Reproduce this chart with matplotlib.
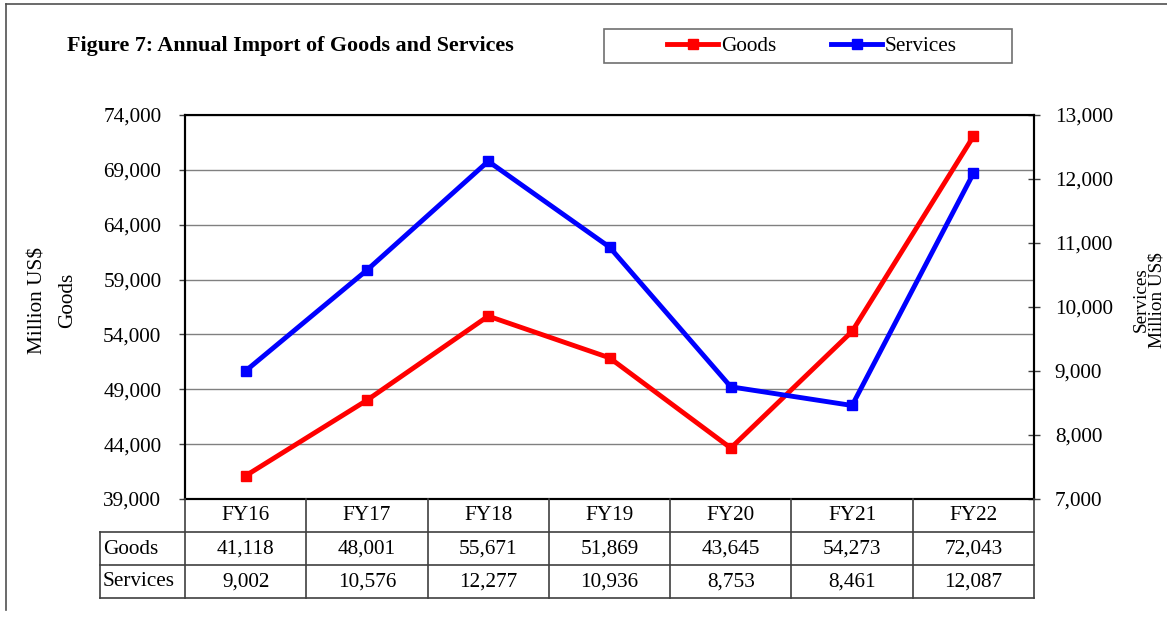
import matplotlib
matplotlib.use("Agg")
import matplotlib.pyplot as plt
from matplotlib.transforms import blended_transform_factory
from matplotlib.patches import Rectangle
from matplotlib.lines import Line2D

years = ["FY16", "FY17", "FY18", "FY19", "FY20", "FY21", "FY22"]
goods = [41118, 48001, 55671, 51869, 43645, 54273, 72043]
services = [9002, 10576, 12277, 10936, 8753, 8461, 12087]
left_ticks = [39000, 44000, 49000, 54000, 59000, 64000, 69000, 74000]
right_ticks = [7000, 8000, 9000, 10000, 11000, 12000, 13000]

W, H = 1167, 619
plt.rcParams['font.family'] = ['Liberation Serif', 'DejaVu Serif']
FS = 15.3

fig = plt.figure(figsize=(W / 100, H / 100), dpi=100)

def fx(px):
    return px / W

def fy(py):
    return 1 - py / H

L, R, T, B = 185, 1034, 115, 499
ax = fig.add_axes([fx(L), fy(B), fx(R) - fx(L), fy(T) - fy(B)])
ax2 = ax.twinx()

x = list(range(len(years)))
ax.set_xlim(-0.5, len(years) - 0.5)
ax.set_ylim(left_ticks[0], left_ticks[-1])
ax2.set_ylim(right_ticks[0], right_ticks[-1])
ax.set_yticks(left_ticks)
ax.set_yticklabels([f"{v:,}" for v in left_ticks], fontsize=FS)
ax2.set_yticks(right_ticks)
ax2.set_yticklabels([f"{v:,}" for v in right_ticks], fontsize=FS)
ax.set_xticks([])
ax.grid(axis='y', color='#808080', lw=1.0)
ax.set_axisbelow(True)
ax.tick_params(axis='y', direction='out', length=4, width=1, pad=13, color='#404040')
ax2.tick_params(axis='y', direction='inout', length=8, width=1, pad=11, color='#404040')
for a in (ax, ax2):
    for s in a.spines.values():
        s.set_color('black')
        s.set_linewidth(1.5)
ax.spines['top'].set_color('#909090')

lg, = ax.plot(x, goods, color='#ff0000', lw=3.5, marker='s', ms=7, label='Goods', zorder=3)
ls, = ax2.plot(x, services, color='#0000ff', lw=3.5, marker='s', ms=7, label='Services', zorder=3)

# Title
fig.text(fx(67), fy(46), "Figure 7: Annual Import of Goods and Services", fontsize=15.8,
         fontweight='bold', ha='left', va='center')

# Legend box
fig.patches.append(Rectangle((fx(604), fy(63)), fx(1012) - fx(604), fy(29) - fy(63),
                             transform=fig.transFigure, fill=False, ec='#707070', lw=1.2))
fig.legend(handles=[lg, ls], loc='center', bbox_to_anchor=(fx(812), fy(46)), ncol=2,
           frameon=False, fontsize=FS, handlelength=2.4, handletextpad=0.12,
           columnspacing=2.6, markerscale=1.0)

# Axis labels
fig.text(fx(38), fy(300), "Million US$", rotation=90, ha='center', va='center', fontsize=FS)
fig.text(fx(68), fy(300), "Goods", rotation=90, ha='center', va='center', fontsize=FS)
fig.text(fx(1149), fy(300), "Services\nMillion US$", rotation=90, ha='center', va='center',
         multialignment='center', linespacing=0.95, fontsize=13.8)

# Data table
tr = blended_transform_factory(ax.transData, fig.transFigure)
rows_y = [499, 532, 565, 598]
lc = '#404040'
x_left_label = fx(100)
x_last = fx(R)
for yy in rows_y[1:]:
    fig.add_artist(Line2D([x_left_label, x_last], [fy(yy), fy(yy)], transform=fig.transFigure,
                          color=lc, lw=1.2))
fig.add_artist(Line2D([x_left_label, x_left_label], [fy(532), fy(598)], transform=fig.transFigure,
                      color=lc, lw=1.2))
for i in range(len(years) + 1):
    fig.add_artist(Line2D([i - 0.5, i - 0.5], [fy(499), fy(598)], transform=tr,
                          color=lc, lw=1.2))
for i, yr in enumerate(years):
    fig.text(i, fy(516), yr, transform=tr, ha='center', va='center', fontsize=FS)
    fig.text(i, fy(549), f"{goods[i]:,}", transform=tr, ha='center', va='center', fontsize=FS)
    fig.text(i, fy(582), f"{services[i]:,}", transform=tr, ha='center', va='center', fontsize=FS)
fig.text(fx(103), fy(549), "Goods", ha='left', va='center', fontsize=FS)
fig.text(fx(103), fy(582), "Services", ha='left', va='center', fontsize=FS)

# Outer frame (top and left only)
fig.add_artist(Line2D([fx(6), 1], [fy(4), fy(4)], transform=fig.transFigure, color='#505050', lw=1.2))
fig.add_artist(Line2D([fx(6), fx(6)], [fy(4), fy(610)], transform=fig.transFigure, color='#505050', lw=1.2))

fig.savefig("out.png", dpi=100, facecolor='white')
